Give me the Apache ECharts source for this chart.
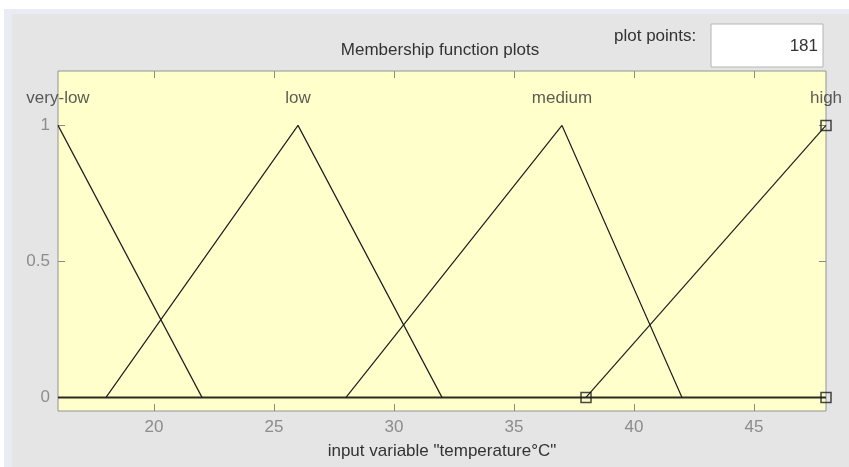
<!DOCTYPE html>
<html>
<head>
<meta charset="utf-8">
<script src="https://cdn.jsdelivr.net/npm/echarts@6/dist/echarts.min.js"></script>
<style>
html,body{margin:0;padding:0;background:#fff;}
#chart{width:849px;height:467px;}
</style>
</head>
<body>
<div id="chart"></div>
<script>
// ---- data ----
const xTicks = [20, 25, 30, 35, 40, 45];
const yTicks = [0, 0.5, 1];
const mfNames = ['very-low', 'low', 'medium', 'high'];
const mfPeakX = [16, 26, 37, 48];
const labelY = 1.1;
const veryLowX = [16, 22];
const veryLowY = [1, 0];
const lowX = [18, 26, 32];
const lowY = [0, 1, 0];
const mediumX = [28, 37, 42];
const mediumY = [0, 1, 0];
const highX = [38, 48];
const highY = [0, 1];
const baselineX = [16, 48];
const baselineY = [0, 0];
const markerX = [38, 48, 48];
const markerY = [0, 0, 1];
const xMin = 16, xMax = 48, yMin = -0.05, yMax = 1.2;
const titleText = 'Membership function plots';
const xAxisName = 'input variable "temperature°C"';
const plotPointsLabel = 'plot points:';
const plotPointsValue = '181';

const pairs = (xs, ys) => xs.map((x, i) => [x, ys[i]]);
const FONT = '"Liberation Sans", Arial, sans-serif';
const FS = 17;

const chart = echarts.init(document.getElementById('chart'), null, {renderer: 'canvas'});

const mfLine = (name, xs, ys) => ({
  name, type: 'line', data: pairs(xs, ys), symbol: 'none', animation: false,
  lineStyle: {color: '#1e1e1e', width: 1.2}, z: 3
});

const tickCommon = {show: true, inside: true, length: 7, lineStyle: {color: '#8a8a8a'}};

chart.setOption({
  backgroundColor: '#ffffff',
  animation: false,
  textStyle: {fontFamily: FONT},
  graphic: [
    {type: 'rect', shape: {x: 4, y: 9, width: 845, height: 458}, style: {fill: '#e9edf3'}, z: -10},
    {type: 'rect', shape: {x: 12, y: 14, width: 837, height: 453}, style: {fill: '#e5e5e5'}, z: -9},
    {type: 'rect', shape: {x: 711, y: 24, width: 112, height: 43}, style: {fill: '#ffffff', stroke: '#b4b4b4', lineWidth: 1}, z: 1},
    {type: 'text', x: 823 - 5, y: 46, style: {text: plotPointsValue, fill: '#333', font: FS + 'px ' + FONT, textAlign: 'right', textVerticalAlign: 'middle'}, z: 2},
    {type: 'text', x: 614, y: 36, style: {text: plotPointsLabel, fill: '#333', font: FS + 'px ' + FONT, textAlign: 'left', textVerticalAlign: 'middle'}, z: 2},
    {type: 'text', x: 440, y: 50, style: {text: titleText, fill: '#333', font: FS + 'px ' + FONT, textAlign: 'center', textVerticalAlign: 'middle'}, z: 2}
  ],
  grid: {left: 58, top: 71, width: 768, height: 340, show: true, backgroundColor: '#ffffcc', borderColor: '#949494', borderWidth: 1},
  xAxis: [
    {type: 'value', position: 'bottom', min: xMin, max: xMax,
     axisLine: {show: false, onZero: false}, splitLine: {show: false},
     axisTick: Object.assign({}, tickCommon, {customValues: xTicks}),
     axisLabel: {customValues: xTicks, color: '#8c8c8c', fontSize: FS, margin: 8},
     name: xAxisName, nameLocation: 'middle', nameGap: 32,
     nameTextStyle: {color: '#333', fontSize: FS}},
    {type: 'value', position: 'top', min: xMin, max: xMax,
     axisLine: {show: false, onZero: false}, splitLine: {show: false},
     axisTick: Object.assign({}, tickCommon, {customValues: xTicks}),
     axisLabel: {show: false}}
  ],
  yAxis: [
    {type: 'value', position: 'left', min: yMin, max: yMax,
     axisLine: {show: false, onZero: false}, splitLine: {show: false},
     axisTick: Object.assign({}, tickCommon, {customValues: yTicks}),
     axisLabel: {customValues: yTicks, color: '#8c8c8c', fontSize: FS, margin: 8,
                 formatter: v => String(v)}},
    {type: 'value', position: 'right', min: yMin, max: yMax,
     axisLine: {show: false, onZero: false}, splitLine: {show: false},
     axisTick: Object.assign({}, tickCommon, {customValues: yTicks}),
     axisLabel: {show: false}}
  ],
  series: [
    {name: 'baseline', type: 'line', data: pairs(baselineX, baselineY), symbol: 'none',
     lineStyle: {color: '#2b2b22', width: 2}, z: 2},
    mfLine(mfNames[0], veryLowX, veryLowY),
    mfLine(mfNames[1], lowX, lowY),
    mfLine(mfNames[2], mediumX, mediumY),
    mfLine(mfNames[3], highX, highY),
    {name: 'markers', type: 'scatter', data: pairs(markerX, markerY), symbol: 'rect', symbolSize: 10,
     itemStyle: {color: 'rgba(0,0,0,0)', borderColor: '#1a1a1a', borderWidth: 1.5}, z: 4, clip: false},
    {name: 'mf-labels', type: 'scatter', clip: false, symbolSize: 2,
     data: mfPeakX.map((x, i) => [x, labelY, mfNames[i]]),
     itemStyle: {color: 'rgba(0,0,0,0)'},
     label: {show: true, position: 'inside', formatter: p => p.data[2], color: '#333', fontSize: FS},
     z: 5}
  ]
});
</script>
</body>
</html>
